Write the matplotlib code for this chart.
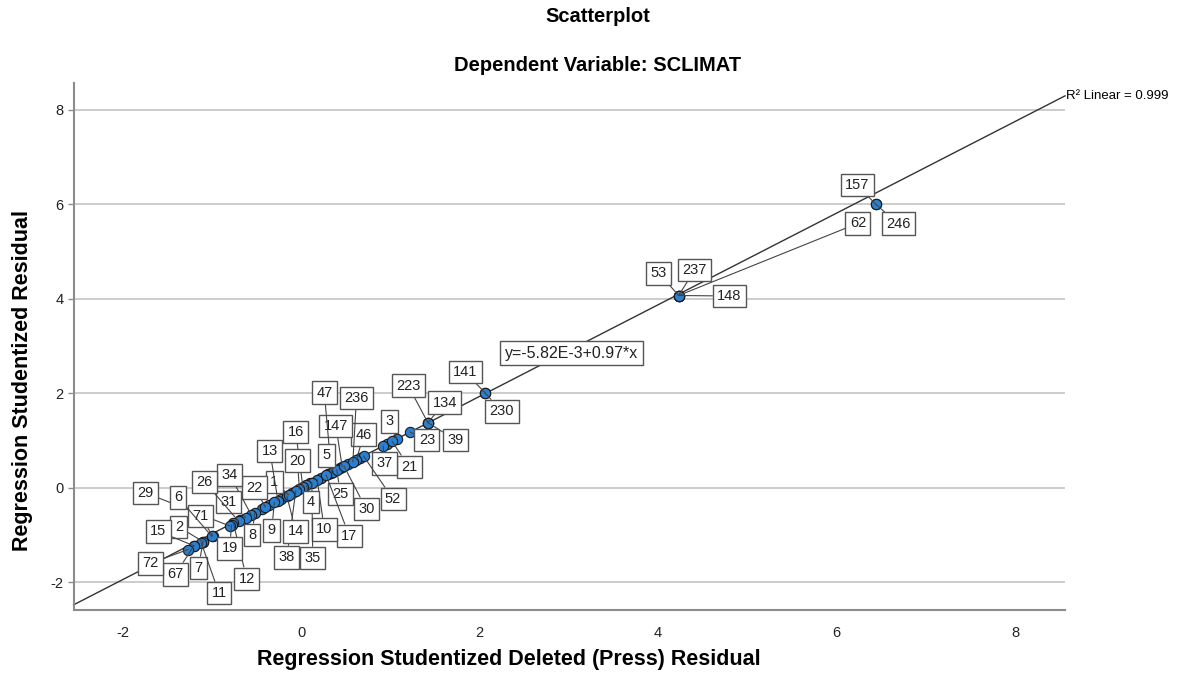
import matplotlib
matplotlib.use('Agg')
import matplotlib.pyplot as plt
import numpy as np

plt.rcParams['font.family'] = ['Liberation Sans', 'DejaVu Sans']
plt.rcParams['axes.unicode_minus'] = False

# labelled cases: id, deleted residual (x), studentized residual (y)
case_ids = ['157', '246', '62', '53', '237', '148', '141', '230', '223', '134',
            '39', '23', '3', '21', '37', '52', '46', '236', '147', '47',
            '5', '25', '30', '17', '10', '35', '4', '16', '20', '38',
            '14', '1', '13', '9', '22', '8', '34', '31', '26', '12',
            '19', '29', '71', '6', '2', '7', '11', '15', '67', '72']
case_x = [6.44, 6.44, 4.23, 4.23, 4.23, 4.23, 2.06, 2.06, 1.42, 1.42,
          1.42, 1.22, 1.07, 1.02, 0.92, 0.70, 0.62, 0.58, 0.46, 0.34,
          0.36, 0.40, 0.48, 0.28, 0.18, 0.12, 0.06, 0.02, -0.02, -0.06,
          -0.16, -0.14, -0.26, -0.30, -0.40, -0.52, -0.56, -0.62, -0.70, -0.76,
          -0.78, -0.80, -0.99, -1.00, -1.10, -1.10, -1.12, -1.20, -1.20, -1.27]
case_y = [6.00, 6.00, 4.07, 4.07, 4.07, 4.07, 2.01, 2.01, 1.38, 1.38,
          1.38, 1.18, 1.03, 0.98, 0.88, 0.67, 0.59, 0.55, 0.44, 0.32,
          0.34, 0.38, 0.46, 0.27, 0.17, 0.11, 0.05, 0.01, -0.03, -0.07,
          -0.17, -0.15, -0.27, -0.31, -0.41, -0.53, -0.57, -0.63, -0.71, -0.74,
          -0.79, -0.81, -1.02, -1.03, -1.14, -1.14, -1.16, -1.23, -1.23, -1.31]

# other (unlabelled) cases along the band
other_x = [-0.68, -0.44, -0.36, -0.22, -0.10, 0.10, 0.22, 0.30, 0.44, 0.52, 0.66, 0.96]
other_y = [-0.69, -0.45, -0.37, -0.23, -0.11, 0.09, 0.21, 0.29, 0.42, 0.50, 0.63, 0.93]

# where each case label box sits (data coords)
label_x = [6.23, 6.69, 6.24, 4.01, 4.41, 4.80, 1.84, 2.25, 1.20, 1.61,
           1.73, 1.41, 0.99, 1.21, 0.93, 1.03, 0.70, 0.62, 0.39, 0.26,
           0.28, 0.44, 0.73, 0.54, 0.26, 0.13, 0.11, -0.06, -0.04, -0.16,
           -0.06, -0.30, -0.35, -0.33, -0.52, -0.55, -0.80, -0.81, -1.08, -0.61,
           -0.80, -1.74, -1.13, -1.38, -1.37, -1.15, -0.92, -1.60, -1.41, -1.69]
label_y = [6.41, 5.59, 5.60, 4.54, 4.61, 4.06, 2.45, 1.62, 2.16, 1.80,
           1.01, 1.01, 1.41, 0.44, 0.52, -0.24, 1.12, 1.90, 1.31, 2.01,
           0.69, -0.13, -0.45, -1.02, -0.88, -1.49, -0.30, 1.18, 0.57, -1.47,
           -0.92, 0.12, 0.78, -0.90, 0.00, -1.00, 0.27, -0.30, 0.12, -1.93,
           -1.28, -0.11, -0.60, -0.20, -0.83, -1.70, -2.23, -0.92, -1.83, -1.60]

intercept = -5.82e-3
slope = 0.97
r2 = 0.999

fig = plt.figure(figsize=(11.96, 6.79), dpi=100)
ax = fig.add_axes([0.0615, 0.1022, 0.829, 0.7756])
xmin, xmax = -2.55, 8.56
ymin, ymax = -2.58, 8.57
ax.set_xlim(xmin, xmax)
ax.set_ylim(ymin, ymax)

ax.set_xticks([-2, 0, 2, 4, 6, 8])
ax.set_yticks([-2, 0, 2, 4, 6, 8])
ax.yaxis.grid(True, color='#c8c8c8', lw=1.3)
ax.set_axisbelow(True)
for s in ['top', 'right']:
    ax.spines[s].set_visible(False)
for s in ['left', 'bottom']:
    ax.spines[s].set_color('#8c8c8c')
    ax.spines[s].set_linewidth(1.5)
ax.tick_params(axis='x', length=0, pad=12, labelsize=10.5, colors='#222222')
ax.tick_params(axis='y', length=4, width=1, color='#8c8c8c', pad=3, labelsize=10.5, labelcolor='#222222')

# fit line across the full x range
fx = np.array([xmin, xmax])
fy = intercept + slope * fx
ax.plot(fx, fy, color='#333333', lw=1, zorder=2, clip_on=False)
ax.annotate('R² Linear = %.3f' % r2, xy=(fx[1], fy[1]), xytext=(1, 0), textcoords='offset points',
            ha='left', va='center', fontsize=9.5, annotation_clip=False)

# leader lines + label boxes
box = dict(boxstyle='square,pad=0.3', fc='white', ec='#555555', lw=1)
for cid, px, py, lx, ly in zip(case_ids, case_x, case_y, label_x, label_y):
    ax.annotate(cid, xy=(px, py), xytext=(lx, ly), textcoords='data',
                ha='center', va='center', fontsize=10.5, color='#222222', bbox=box,
                arrowprops=dict(arrowstyle='-', color='#444444', lw=0.8,
                                shrinkA=0, shrinkB=0), zorder=4)

ax.scatter(other_x + case_x, other_y + case_y, s=55, color='#2b7fd0',
           edgecolors='#1a1a1a', linewidths=0.8, zorder=3)

ax.text(3.03, 2.85, 'y=-5.82E-3+0.97*x', ha='center', va='center', fontsize=11.5,
        color='#222222', bbox=dict(boxstyle='square,pad=0.3', fc='white', ec='#555555', lw=1),
        zorder=5)

fig.text(0.5, 0.976, 'Scatterplot', ha='center', va='center', fontsize=14.5, fontweight='bold')
fig.text(0.5, 0.904, 'Dependent Variable: SCLIMAT', ha='center', va='center', fontsize=14.5, fontweight='bold')
fig.text(0.4256, 0.028, 'Regression Studentized Deleted (Press) Residual', ha='center', va='center',
         fontsize=15.5, fontweight='bold')
fig.text(0.0184, 0.44, 'Regression Studentized Residual', ha='center', va='center',
         rotation=90, fontsize=15.5, fontweight='bold')

fig.savefig('out.png', dpi=100)
